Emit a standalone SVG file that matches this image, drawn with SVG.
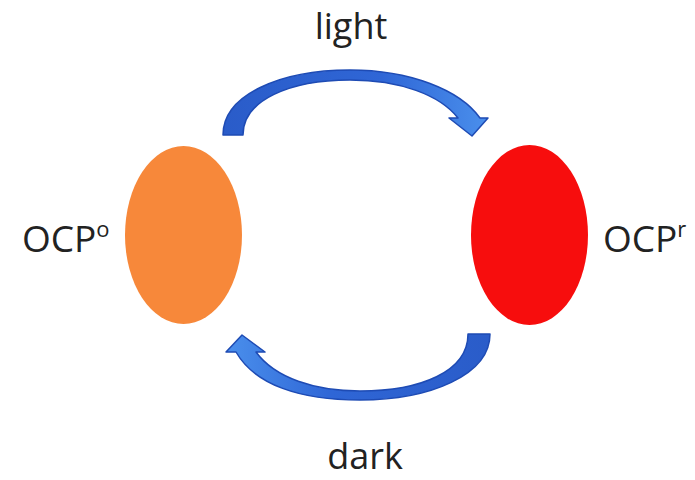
<svg xmlns="http://www.w3.org/2000/svg" width="695" height="480" viewBox="0 0 695 480">
<defs>
<linearGradient id="gTop" x1="0" y1="0" x2="1" y2="0">
<stop offset="0" stop-color="#2A5CC9"/>
<stop offset="0.6" stop-color="#2F66D6"/>
<stop offset="1" stop-color="#4A8FEC"/>
</linearGradient>
<linearGradient id="gBot" x1="1" y1="0" x2="0" y2="0">
<stop offset="0" stop-color="#2A5CC9"/>
<stop offset="0.6" stop-color="#2F66D6"/>
<stop offset="1" stop-color="#4A8FEC"/>
</linearGradient>
</defs>
<style>
.lbl{font-family:"Open Sans","Liberation Sans",sans-serif;font-size:37px;fill:#222}
.edge{font-size:36px}
.sup{font-size:22px}
.arrow{stroke:#1E4BB4;stroke-width:1.5;stroke-linejoin:round}
</style>
<rect width="695" height="480" fill="#fff"/>
<g id="connectors">
<path class="arrow" fill="url(#gTop)" d="M223,135 C223,95 280,70 350,70 C410,70 460,90 480,118 L488,118 L472,136 L449,118 L458,118 C440,95 400,80 350,80 C290,80 243,100 243,135 Z"/>
<path class="arrow" fill="url(#gBot)" d="M490,334 C490,375 430,400 360,400 C300,400 255,385 236,352 L226,352 L242,335 L265,352 L256,352 C275,378 315,391 360,391 C420,391 468,372 468,334 Z"/>
</g>
<g id="label-light"><text class="lbl edge" x="351" y="39" text-anchor="middle">light</text></g>
<g id="label-dark"><text class="lbl edge" x="365" y="469" text-anchor="middle">dark</text></g>
<g id="ocp-o">
<ellipse cx="183.5" cy="235" rx="58.5" ry="89" fill="#F7883A"/>
<text class="lbl" x="22" y="252">OCP<tspan class="sup" dy="-15">o</tspan></text>
</g>
<g id="ocp-r">
<ellipse cx="529.5" cy="235" rx="58.5" ry="90" fill="#F70D0D"/>
<text class="lbl" x="603" y="252">OCP<tspan class="sup" dy="-15">r</tspan></text>
</g>
</svg>
